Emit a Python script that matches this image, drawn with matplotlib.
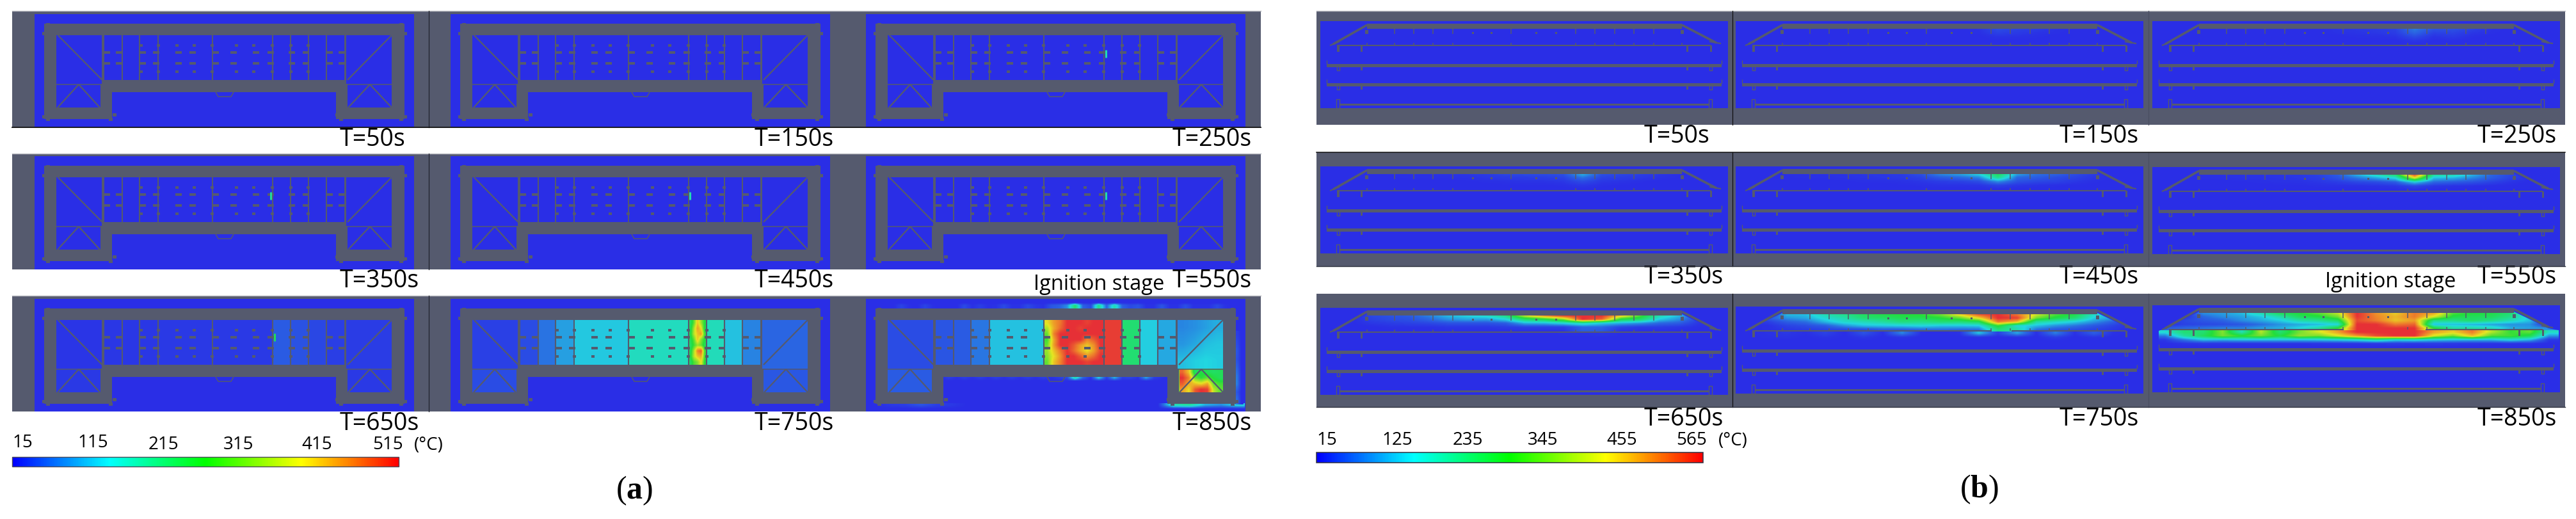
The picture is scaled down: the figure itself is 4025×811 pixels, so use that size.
import numpy as np
import matplotlib
matplotlib.use("Agg")
import matplotlib.pyplot as plt
from matplotlib.colors import LinearSegmentedColormap, Normalize
from matplotlib.patches import Polygon, Rectangle

plt.rcParams['font.family'] = ['Open Sans', 'DejaVu Sans']
plt.rcParams['mathtext.fontset'] = 'custom'
plt.rcParams['mathtext.bf'] = 'Liberation Serif:bold'
plt.rcParams['mathtext.rm'] = 'Liberation Serif'

GRAY = '#555a6e'
BLUE = '#2a2ee6'

times_a = ['T=50s', 'T=150s', 'T=250s', 'T=350s', 'T=450s', 'T=550s', 'T=650s', 'T=750s', 'T=850s']
times_b = times_a
ticks_a = [15, 115, 215, 315, 415, 515]
ticks_b = [15, 125, 235, 345, 455, 565]

# plan view: bay temperatures left to right, rooms = left, right, lower left, lower right
bay_edges = [108, 137, 164, 193, 278, 372, 400, 427.5, 456, 485]
bays_cold = [15, 15, 15, 15, 15, 15, 15, 15, 15]
rooms_cold = [15, 15, 15, 15]
bays_650 = [23, 24, 24, 25, 26, 55, 48, 38, 30]
rooms_650 = [22, 27, 26, 26]
bays_750 = [42, 72, 100, 125, 160, 300, 165, 122, 82]
rooms_750 = [32, 62, 42, 52]
bays_850 = [50, 55, 75, 122, 460, 505, 222, 130, 105]
rooms_850 = [42, 100, 55, 300]

# hottest bays in plan view, rows top to bottom
hot_750_bay6 = [[230, 300, 400, 330, 260],
                [240, 340, 430, 380, 250],
                [250, 350, 400, 430, 280],
                [240, 300, 400, 320, 260],
                [230, 280, 330, 300, 240],
                [240, 340, 450, 480, 280],
                [250, 350, 400, 420, 280],
                [230, 290, 320, 380, 260]]
hot_850_bay5 = [[380, 430, 460, 515, 515, 515, 500, 515, 515],
                [340, 420, 470, 515, 515, 500, 515, 515, 515],
                [300, 450, 515, 515, 515, 515, 515, 515, 515],
                [280, 420, 515, 515, 515, 515, 450, 480, 515],
                [300, 430, 515, 515, 480, 430, 400, 440, 515],
                [330, 400, 460, 515, 470, 420, 380, 430, 500],
                [320, 380, 440, 515, 515, 480, 440, 470, 515],
                [300, 400, 450, 515, 515, 515, 500, 515, 515]]
hot_850_lowright = [[470, 400, 230, 260, 240, 230, 240],
                    [515, 450, 300, 270, 300, 260, 240],
                    [480, 420, 400, 380, 420, 300, 280],
                    [430, 380, 480, 515, 500, 350, 300]]
hot_850_rightroom = [[85, 90, 100, 110],
                     [95, 105, 120, 125],
                     [120, 130, 135, 130]]

# smoke outside the building at T=850s
plume_top = [15, 15, 15, 15, 35, 18, 15, 35, 18, 15, 15, 15, 40, 18, 30, 18, 20, 40, 20, 20, 40, 25, 20, 50,
             60, 90, 220, 60, 40, 200, 60, 170, 60, 40, 50, 20, 20, 50, 20, 20, 45, 20, 20, 20, 40, 20, 15, 15]
plume_mid = [15, 15, 15, 15, 15, 15, 15, 15, 15, 15, 30, 18, 30, 18, 30, 18, 30, 18, 30, 18, 30, 18, 30, 18,
             30, 40, 170, 60, 18, 130, 30, 110, 30, 35, 20, 100, 30, 20, 15, 15, 15, 15, 15, 15, 15, 15, 15, 15]
plume_low = [15, 25, 30, 50, 30, 25, 15, 15, 15, 15, 15, 15, 15, 15, 15, 15, 15, 15, 15, 170, 190, 110, 90, 140]
plume_right = [30, 40, 50, 45, 60, 75, 80, 50, 70]

# small first hot spot in plan view: frame index, x, y, temperature
spot_frame = [2, 3, 4, 5, 6]
spot_x = [375, 369, 374, 375, 375]
spot_y = [62, 62, 62, 62, 60]
spot_temp = [170, 190, 170, 175, 240]

# section view grid
sec_x = [20, 50, 80, 110, 140, 170, 200, 230, 260, 290, 320, 350, 380, 410, 440, 470, 500, 530, 560, 590, 620]
sec_y = [12, 18, 24, 30, 36, 42, 48, 54, 60]

sec_150 = [[15, 15, 15, 15, 15, 15, 15, 15, 15, 15, 15, 15, 20, 45, 35, 30, 20, 15, 15, 15, 15],
           [15, 15, 15, 15, 15, 15, 15, 15, 15, 15, 15, 15, 18, 35, 28, 22, 18, 15, 15, 15, 15],
           [15, 15, 15, 15, 15, 15, 15, 15, 15, 15, 15, 15, 15, 22, 20, 18, 15, 15, 15, 15, 15],
           [15, 15, 15, 15, 15, 15, 15, 15, 15, 15, 15, 15, 15, 15, 15, 15, 15, 15, 15, 15, 15]]
sec_250 = [[15, 15, 15, 15, 15, 15, 15, 15, 15, 22, 25, 28, 35, 85, 50, 50, 35, 20, 15, 15, 15],
           [15, 15, 15, 15, 15, 15, 15, 15, 15, 20, 22, 25, 30, 70, 35, 38, 25, 18, 15, 15, 15],
           [15, 15, 15, 15, 15, 15, 15, 15, 15, 15, 18, 18, 22, 45, 22, 28, 18, 15, 15, 15, 15],
           [15, 15, 15, 15, 15, 15, 15, 15, 15, 15, 15, 15, 15, 25, 16, 18, 15, 15, 15, 15, 15],
           [15, 15, 15, 15, 15, 15, 15, 15, 15, 15, 15, 15, 15, 15, 15, 15, 15, 15, 15, 15, 15]]
sec_350 = [[15, 15, 18, 18, 20, 20, 22, 25, 30, 40, 45, 45, 50, 130, 50, 40, 35, 25, 18, 15, 15],
           [15, 15, 15, 16, 18, 18, 18, 20, 24, 28, 30, 32, 36, 80, 36, 30, 26, 20, 16, 15, 15],
           [15, 15, 15, 15, 15, 15, 15, 16, 18, 20, 22, 22, 25, 45, 25, 22, 18, 15, 15, 15, 15],
           [15, 15, 15, 15, 15, 15, 15, 15, 15, 16, 16, 16, 18, 25, 18, 16, 15, 15, 15, 15, 15],
           [15, 15, 15, 15, 15, 15, 15, 15, 15, 15, 15, 15, 15, 15, 15, 15, 15, 15, 15, 15, 15]]
sec_450 = [[15, 15, 18, 20, 20, 22, 25, 25, 30, 50, 100, 120, 160, 270, 120, 80, 70, 45, 30, 15, 15],
           [15, 15, 16, 18, 18, 20, 22, 24, 26, 35, 60, 70, 90, 220, 70, 60, 45, 35, 22, 15, 15],
           [15, 15, 15, 15, 15, 16, 18, 18, 20, 24, 30, 35, 45, 100, 50, 40, 35, 25, 18, 15, 15],
           [15, 15, 15, 15, 15, 15, 15, 15, 16, 18, 20, 20, 22, 35, 24, 20, 18, 16, 15, 15, 15],
           [15, 15, 15, 15, 15, 15, 15, 15, 15, 15, 15, 15, 15, 15, 15, 15, 15, 15, 15, 15, 15]]
sec_550 = [[15, 15, 20, 20, 22, 22, 24, 25, 35, 60, 130, 190, 260, 565, 220, 200, 130, 70, 40, 20, 15],
           [15, 15, 18, 18, 20, 20, 22, 24, 30, 50, 80, 110, 150, 400, 130, 120, 90, 60, 35, 18, 15],
           [15, 15, 15, 15, 16, 18, 20, 20, 24, 30, 40, 45, 60, 140, 70, 60, 50, 35, 22, 15, 15],
           [15, 15, 15, 15, 15, 15, 15, 16, 18, 18, 18, 20, 24, 40, 24, 20, 18, 16, 15, 15, 15],
           [15, 15, 15, 15, 15, 15, 15, 15, 15, 15, 15, 15, 15, 15, 15, 15, 15, 15, 15, 15, 15]]
sec_650 = [[15, 15, 40, 50, 60, 90, 130, 150, 170, 230, 400, 500, 565, 565, 565, 450, 320, 190, 130, 40, 15],
           [15, 15, 35, 45, 50, 70, 100, 115, 110, 150, 250, 280, 350, 565, 520, 280, 250, 140, 100, 35, 15],
           [15, 15, 25, 30, 35, 40, 50, 50, 50, 60, 120, 125, 150, 180, 140, 120, 100, 70, 60, 25, 15],
           [15, 15, 15, 20, 20, 20, 25, 25, 25, 30, 35, 35, 35, 70, 70, 40, 30, 30, 25, 18, 15],
           [15, 15, 15, 15, 16, 16, 18, 18, 18, 18, 18, 18, 20, 60, 55, 20, 18, 18, 16, 15, 15],
           [15, 15, 15, 15, 15, 15, 15, 15, 17, 15, 15, 15, 18, 18, 22, 16, 17, 15, 15, 15, 15],
           [15, 15, 15, 15, 15, 15, 15, 15, 15, 15, 15, 15, 15, 15, 15, 15, 15, 15, 15, 15, 15]]
sec_750 = [[15, 15, 130, 130, 190, 220, 260, 280, 290, 300, 340, 430, 540, 565, 500, 400, 320, 280, 170, 100, 15],
           [15, 60, 100, 115, 160, 190, 240, 250, 270, 270, 290, 330, 420, 565, 550, 340, 280, 240, 140, 110, 15],
           [15, 30, 60, 75, 125, 165, 180, 200, 230, 220, 240, 235, 260, 500, 440, 200, 170, 140, 100, 60, 15],
           [15, 18, 35, 45, 60, 100, 130, 135, 140, 150, 135, 135, 140, 300, 160, 130, 100, 80, 55, 35, 15],
           [15, 18, 25, 30, 35, 40, 45, 60, 60, 70, 75, 70, 75, 230, 190, 75, 55, 45, 35, 25, 15],
           [15, 20, 25, 18, 35, 15, 50, 18, 90, 18, 15, 20, 130, 35, 110, 18, 85, 20, 60, 20, 15],
           [15, 18, 20, 15, 22, 15, 25, 15, 22, 15, 15, 15, 18, 15, 18, 15, 30, 15, 22, 15, 15],
           [15, 15, 15, 15, 15, 15, 15, 15, 15, 15, 15, 15, 15, 15, 15, 15, 15, 15, 15, 15, 15]]
sec_850 = [[15, 15, 100, 110, 130, 190, 270, 290, 330, 390, 565, 480, 430, 500, 470, 320, 290, 280, 240, 110, 15],
           [15, 15, 70, 95, 110, 135, 190, 260, 280, 340, 560, 490, 450, 500, 400, 280, 260, 260, 220, 130, 15],
           [15, 40, 55, 65, 95, 115, 140, 190, 210, 250, 540, 500, 440, 470, 220, 220, 250, 220, 180, 130, 15],
           [15, 35, 40, 45, 55, 75, 100, 115, 125, 150, 565, 565, 500, 520, 130, 130, 120, 110, 100, 100, 15],
           [60, 70, 80, 90, 90, 110, 120, 150, 200, 300, 565, 565, 565, 565, 300, 200, 200, 180, 120, 110, 100],
           [160, 240, 240, 350, 180, 380, 240, 340, 400, 470, 565, 565, 565, 565, 470, 430, 500, 380, 300, 330, 170],
           [80, 200, 260, 340, 300, 340, 280, 360, 340, 400, 470, 540, 565, 565, 400, 340, 440, 320, 310, 270, 100],
           [25, 80, 130, 120, 130, 130, 130, 130, 135, 145, 160, 200, 150, 160, 140, 130, 125, 125, 155, 125, 25],
           [15, 20, 22, 20, 18, 18, 18, 18, 20, 20, 20, 22, 25, 22, 25, 22, 20, 18, 18, 18, 15]]

plan_map = LinearSegmentedColormap.from_list('panel', [
    (0.0, BLUE), (0.10, '#2a68e2'), (0.24, '#22d8e0'), (0.34, '#22dd9c'), (0.5, '#22dd3c'),
    (0.72, '#e6e622'), (0.86, '#ee8a2a'), (1.0, '#e63036')])
bar_map = LinearSegmentedColormap.from_list('bar', [
    (0.0, '#0000ff'), (0.25, '#00ffff'), (0.5, '#00ff00'), (0.75, '#ffff00'), (1.0, '#ff0000')])


def gray_rect(ax, x, y, w, h, z=5):
    ax.add_patch(Rectangle((x, y), w, h, fc=GRAY, ec='none', zorder=z))


def gray_line(ax, xs, ys, lw=1.1, z=5):
    ax.plot(xs, ys, color=GRAY, lw=lw, zorder=z, solid_capstyle='butt')


def heat(ax, x0, y0, values, left, right, top, bottom, norm, z=2, interp='bilinear', clip=None):
    im = ax.imshow(np.array(values, dtype=float), cmap=plan_map, norm=norm, aspect='auto',
                   interpolation=interp, zorder=z,
                   extent=(x0 + left, x0 + right, y0 + bottom, y0 + top))
    if clip is not None:
        im.set_clip_path(clip)
    return im


def draw_plan(ax, x0, y0, bays, rooms, norm):
    # walls
    outer = [(15, 15), (577.5, 15), (577.5, 164), (471, 164), (471, 122), (120.6, 122), (120.6, 164), (15, 164)]
    ax.add_patch(Polygon([(x0 + a, y0 + b) for a, b in outer], fc=GRAY, ec='none', zorder=3))
    for cx, cy in [(12, 28), (18, 14), (570, 14), (576, 28), (12, 158), (18, 162), (116, 162), (122, 155),
                   (470, 155), (476, 162), (570, 162), (576, 158)]:
        gray_rect(ax, x0 + cx, y0 + cy, 6, 5, z=3)

    # rooms and bays
    xb = [x0 + e for e in bay_edges]
    ax.pcolormesh(xb, [y0 + 33, y0 + 103], [bays], cmap=plan_map, norm=norm, zorder=4)
    ax.pcolormesh([x0 + 33.6, x0 + 105], [y0 + 33, y0 + 109], [[rooms[0]]], cmap=plan_map, norm=norm, zorder=4)
    ax.pcolormesh([x0 + 487, x0 + 558], [y0 + 33, y0 + 109], [[rooms[1]]], cmap=plan_map, norm=norm, zorder=4)
    ax.pcolormesh([x0 + 33.6, x0 + 103], [y0 + 109, y0 + 146], [[rooms[2]]], cmap=plan_map, norm=norm, zorder=4)
    ax.pcolormesh([x0 + 489, x0 + 558], [y0 + 109, y0 + 146], [[rooms[3]]], cmap=plan_map, norm=norm, zorder=4)


def draw_plan_details(ax, x0, y0):
    for e in bay_edges:
        gray_line(ax, [x0 + e, x0 + e], [y0 + 33, y0 + 103], lw=1.5)
    for a, b, c, d in [(36.5, 33, 105.7, 103), (558, 33, 489, 103),
                       (69, 110, 36, 146), (69, 110, 102, 146), (524, 110, 490, 146), (524, 110, 558, 146)]:
        gray_line(ax, [x0 + a, x0 + c], [y0 + b, y0 + d], lw=1.6)
    gray_line(ax, [x0 + 33.6, x0 + 103], [y0 + 110, y0 + 110], lw=1.1)
    gray_line(ax, [x0 + 489, x0 + 558], [y0 + 110, y0 + 110], lw=1.1)
    gray_line(ax, [x0 + 283, x0 + 287, x0 + 307, x0 + 311], [y0 + 122, y0 + 129, y0 + 129, y0 + 122], lw=1.1)
    for row in [60, 77]:
        for c in [113, 132, 169, 190, 225, 247, 283, 310.5, 346, 369, 402, 424, 460.6, 480]:
            gray_rect(ax, x0 + c - 5, y0 + row - 2, 10, 4)
    for row in [49, 90]:
        for c in [166, 193, 222, 249, 277, 315.5, 342.5, 371, 400, 427.5]:
            gray_rect(ax, x0 + c - 2.5, y0 + row - 2, 5, 4)


def draw_section(ax, x0, y0, field, norm, gap=None):
    if field is not None:
        n = len(field)
        clip = Polygon([(x0 + a, y0 + b) for a, b in [(73, 10), (565, 10), (619, 36), (640, 40), (640, 70),
                                                       (10, 70), (10, 40), (20, 36)]], transform=ax.transData)
        left, right = sec_x[0] - 15, sec_x[-1] + 15
        # the floor splits the field: above and below are interpolated on their own
        upper = field[:5]
        heat(ax, x0, y0, upper, left, right, sec_y[0] - 3, sec_y[len(upper) - 1] + 3, norm, clip=clip)
        if n > 5:
            heat(ax, x0, y0, field[5:], left, right, sec_y[5] - 3, sec_y[n - 1] + 3, norm, clip=clip)

    # roof and slopes
    gray_rect(ax, x0 + 73, y0 + 4, 492, 8)
    gray_line(ax, [x0 + 73, x0 + 20], [y0 + 6, y0 + 36], lw=2.6)
    gray_line(ax, [x0 + 565, x0 + 619], [y0 + 6, y0 + 34], lw=2.6)
    gray_line(ax, [x0 + 15, x0 + 30], [y0 + 38, y0 + 32], lw=1.5)
    gray_line(ax, [x0 + 608, x0 + 626], [y0 + 32, y0 + 35], lw=1.5)
    for c in [116, 146, 176, 207, 298, 399, 429, 460, 490, 520.5]:
        gray_line(ax, [x0 + c, x0 + c], [y0 + 12, y0 + 20], lw=1.1)
    for c in [238, 267, 337.5, 368]:
        gray_rect(ax, x0 + c - 1.5, y0 + 17, 3, 3)
    gray_rect(ax, x0 + 70, y0 + 14, 5, 6)
    gray_rect(ax, x0 + 563, y0 + 14, 5, 6)

    # first floor line, open part at the fire
    if gap is None:
        gray_line(ax, [x0 + 26, x0 + 610], [y0 + 38, y0 + 38], lw=1.5)
    else:
        gray_line(ax, [x0 + 26, x0 + gap[0]], [y0 + 38, y0 + 38], lw=1.5)
        gray_line(ax, [x0 + gap[1], x0 + 610], [y0 + 38, y0 + 38], lw=1.5)
    for c in [73, 116, 146, 176, 207, 298, 399, 429, 460, 490, 520.5, 565]:
        gray_line(ax, [x0 + c, x0 + c], [y0 + 34, y0 + 38], lw=1.1)
    for c in [27.5, 64, 573, 610]:
        gray_rect(ax, x0 + c - 1.5, y0 + 38, 3.5, 10)

    # lower floors
    for fy in [67, 97]:
        gray_rect(ax, x0 + 10, y0 + fy, 617, 4.5)
        gray_line(ax, [x0 + 10, x0 + 10], [y0 + fy - 6, y0 + fy], lw=1)
        gray_line(ax, [x0 + 627, x0 + 627], [y0 + fy - 6, y0 + fy], lw=1)
        for c in [64, 573]:
            gray_rect(ax, x0 + c - 1.5, y0 + fy + 4, 3, 6)
        for c in [27.5, 610]:
            gray_line(ax, [x0 + c - 2, x0 + c - 2, x0 + c + 2, x0 + c + 2],
                      [y0 + fy + 4, y0 + fy + 10, y0 + fy + 10, y0 + fy + 4], lw=1)

    # ground floor
    gray_rect(ax, x0 + 30, y0 + 129, 578, 2.5)
    for c in [24.5, 607]:
        ax.add_patch(Rectangle((x0 + c, y0 + 122), 5, 14, fc='none', ec=GRAY, lw=1, zorder=5))


fig = plt.figure(figsize=(40.25, 8.12), dpi=100)
ax = fig.add_axes([0, 0, 1, 1])
ax.set_autoscale_on(False)
ax.set_xlim(0, 4025)
ax.set_ylim(812, 0)
ax.axis('off')

norm_a = Normalize(15, 515)
norm_b = Normalize(15, 565)

# ---- (a) plan view ----
rows_a = [(18, 200), (241, 422), (463, 644)]
blue_top_a = [23, 245, 468]
blue_left_a = [54, 704, 1353]
label_x_a = [531, 1179, 1832]
label_y_a = [218, 439, 662]

frames_a = [(bays_cold, rooms_cold)] * 6 + [(bays_650, rooms_650), (bays_750, rooms_750), (bays_850, rooms_850)]

for r in range(3):
    ax.add_patch(Rectangle((19, rows_a[r][0]), 1951, rows_a[r][1] - rows_a[r][0], fc=GRAY, ec='none', zorder=0.5))
    ax.plot([670, 670], rows_a[r], color='#20232e', lw=0.9, zorder=7)
    ax.plot([19, 1970], [rows_a[r][0], rows_a[r][0]], color='#b8bac0', lw=1, zorder=0.6)
    for c in range(3):
        x0, y0 = blue_left_a[c], blue_top_a[r]
        ax.add_patch(Rectangle((x0, y0), 592.5, rows_a[r][1] - y0, fc=BLUE, ec='none', zorder=1))
        bays, rooms = frames_a[r * 3 + c]
        draw_plan(ax, x0, y0, bays, rooms, norm_a)
        if r * 3 + c == 7:
            heat(ax, x0, y0, hot_750_bay6, 372, 400, 33, 103, norm_a, z=4.5)
        if r * 3 + c == 8:
            heat(ax, x0, y0, hot_850_bay5, 278, 372, 33, 103, norm_a, z=4.5)
            heat(ax, x0, y0, hot_850_lowright, 490, 558, 110, 146, norm_a, z=4.5)
            heat(ax, x0, y0, hot_850_rightroom, 487, 558, 33, 109, norm_a, z=4.5)
            heat(ax, x0, y0, [[15] * len(plume_top), plume_top, plume_top], 0, 592, 4, 16, norm_a)
            heat(ax, x0, y0, [plume_mid, [15] * len(plume_mid)], 0, 592, 121, 131, norm_a)
            heat(ax, x0, y0, [plume_low, [15] * len(plume_low)], 0, 592, 163, 175, norm_a)
            heat(ax, x0, y0, [[v, 15] for v in plume_right], 577, 590, 50, 165, norm_a)
        draw_plan_details(ax, x0, y0)
        ax.text(label_x_a[c], label_y_a[r], times_a[r * 3 + c], fontsize=27, ha='left', va='center', color='black')

for f, sx, sy, st in zip(spot_frame, spot_x, spot_y, spot_temp):
    x0 = blue_left_a[f % 3]
    y0 = blue_top_a[f // 3]
    ax.scatter([x0 + sx], [y0 + sy], c=[st], cmap=plan_map, norm=norm_a, marker='|', s=70, linewidths=2.2, zorder=6)

ax.plot([19, 1970], [200, 200], color='#101010', lw=1.3, zorder=7)

ax.text(1615, 445, 'Ignition stage', fontsize=23.5, ha='left', va='center', color='black')

tick_x_a = [35, 145, 255, 373, 495, 606]
tick_y_a = [692, 692, 695, 695, 695, 695]
for t, tx, ty in zip(ticks_a, tick_x_a, tick_y_a):
    ax.text(tx, ty, str(t), fontsize=20, ha='center', va='center', color='black')
ax.text(670, 696, '(°C)', fontsize=20, ha='center', va='center', color='black')
ax.imshow(np.linspace(15, 515, 400)[None, :], cmap=bar_map, norm=norm_a, aspect='auto',
          extent=(19, 623, 730, 715), zorder=2)
ax.add_patch(Rectangle((19, 715), 604, 15, fc='none', ec='#4a4a5a', lw=1, zorder=3))
ax.text(991, 767, r'($\mathbf{a}$)', fontsize=36, ha='center', va='center', family='Liberation Serif')

# ---- (b) section view ----
rows_b = [(18, 196), (239, 417), (460, 637)]
blue_top_b = [[34, 34, 34], [261, 261, 262], [482, 480, 478]]
blue_left_b = [2063, 2712, 3363]
label_x_b = [2569, 3218, 3871]
label_y_b = [213, 433, 655]

fields_b = [None, sec_150, sec_250, sec_350, sec_450, sec_550, sec_650, sec_750, sec_850]
gaps_b = [None, None, None, None, None, None, None, (400, 431), (299, 427)]

for r in range(3):
    ax.add_patch(Rectangle((2057, rows_b[r][0]), 1951, rows_b[r][1] - rows_b[r][0], fc=GRAY, ec='none', zorder=0.5))
    ax.plot([2707, 2707], rows_b[r], color='#101010', lw=0.9, zorder=7)
    ax.plot([3357, 3357], rows_b[r], color='#4a4e60', lw=0.9, zorder=7)
    for c in range(3):
        x0, y0 = blue_left_b[c], blue_top_b[r][c]
        ax.add_patch(Rectangle((x0, y0), 637, 136, fc=BLUE, ec='none', zorder=1))
        draw_section(ax, x0, y0, fields_b[r * 3 + c], norm_b, gaps_b[r * 3 + c])
        ax.text(label_x_b[c], label_y_b[r], times_b[r * 3 + c], fontsize=27, ha='left', va='center', color='black')

ax.plot([2057, 4008], [239, 239], color='#101010', lw=1.1, zorder=7)
ax.plot([2057, 4008], [417, 417], color='#303340', lw=1, zorder=7)
ax.plot([2057, 4008], [637, 637], color='#303340', lw=1, zorder=7)
ax.plot([2057, 4008], [18, 18], color='#b8bac0', lw=1, zorder=0.6)

ax.text(3633, 441, 'Ignition stage', fontsize=23.5, ha='left', va='center', color='black')

tick_x_b = [2073, 2183, 2293, 2411, 2534, 2643]
for t, tx in zip(ticks_b, tick_x_b):
    ax.text(tx, 688, str(t), fontsize=20, ha='center', va='center', color='black')
ax.text(2708, 689, '(°C)', fontsize=20, ha='center', va='center', color='black')
ax.imshow(np.linspace(15, 565, 400)[None, :], cmap=bar_map, norm=norm_b, aspect='auto',
          extent=(2057, 2661, 724, 708), zorder=2)
ax.add_patch(Rectangle((2057, 708), 604, 16, fc='none', ec='#303040', lw=1.1, zorder=3))
ax.text(3092, 765, r'($\mathbf{b}$)', fontsize=36, ha='center', va='center', family='Liberation Serif')

fig.savefig('out.png', dpi=100, facecolor='white')
